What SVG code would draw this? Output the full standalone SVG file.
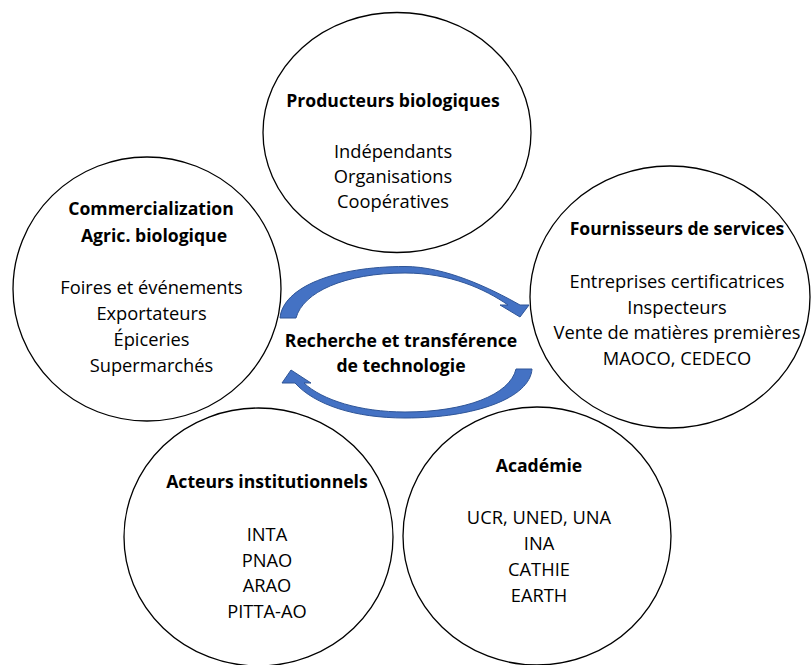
<svg xmlns="http://www.w3.org/2000/svg" width="812" height="665" viewBox="0 0 812 665">
<defs>
<style>
.node{fill:#fff;stroke:#000;stroke-width:1.3}
text{font-family:"Open Sans","Liberation Sans",sans-serif;font-size:18.3px;fill:#000;text-anchor:middle}
.t{font-weight:bold;font-size:17.6px}
.arr{fill:#4472C4;stroke:#2F5597;stroke-width:1}
</style>
</defs>
<rect width="812" height="665" fill="#fff"/>
<g id="producteurs">
<ellipse class="node" cx="397" cy="132.5" rx="134" ry="120"/>
<text class="t" x="393" y="107">Producteurs biologiques</text>
<text x="393" y="158">Indépendants</text>
<text x="393" y="183">Organisations</text>
<text x="393" y="208">Coopératives</text>
</g>
<g id="commercialization">
<ellipse class="node" cx="147" cy="289" rx="134" ry="132"/>
<text class="t" x="151" y="215">Commercialization</text>
<text class="t" x="154" y="242">Agric. biologique</text>
<text x="151.5" y="294">Foires et événements</text>
<text x="151.5" y="320">Exportateurs</text>
<text x="151.5" y="346">Épiceries</text>
<text x="151.5" y="372">Supermarchés</text>
</g>
<g id="fournisseurs">
<ellipse class="node" cx="670" cy="297" rx="140" ry="131"/>
<text class="t" x="677" y="235">Fournisseurs de services</text>
<text x="677" y="288">Entreprises certificatrices</text>
<text x="677" y="314">Inspecteurs</text>
<text x="677" y="339">Vente de matières premières</text>
<text x="677" y="365">MAOCO, CEDECO</text>
</g>
<g id="acteurs">
<ellipse class="node" cx="258.5" cy="537" rx="134.5" ry="129"/>
<text class="t" x="267" y="488">Acteurs institutionnels</text>
<text x="267" y="541">INTA</text>
<text x="267" y="567">PNAO</text>
<text x="267" y="592">ARAO</text>
<text x="267" y="618">PITTA-AO</text>
</g>
<g id="academie">
<ellipse class="node" cx="537" cy="536" rx="134" ry="129"/>
<text class="t" x="539" y="472">Académie</text>
<text x="539" y="524">UCR, UNED, UNA</text>
<text x="539" y="550">INA</text>
<text x="539" y="576">CATHIE</text>
<text x="539" y="602">EARTH</text>
</g>
<g id="recherche">
<text class="t" x="401" y="347">Recherche et transférence</text>
<text class="t" x="401" y="372">de technologie</text>
</g>
<g id="connectors">
<path class="arr" d="M 280 318 C 283 287 335 266.5 405 266.5 C 445 266.5 490 288 520 305 L 529 305 L 520 317 L 500 305 L 508 305 C 485 289 450 273 405 273 C 345 273 303 292 296 318 Z"/>
<path class="arr" d="M 532 369 C 530 398 475 418 405 418 C 355 418 315 405 295 383 L 282 383 L 291 370 L 311 383 L 304 383 C 322 400 360 412 405 412 C 465 412 510 395 516 369 Z"/>
</g>
</svg>
